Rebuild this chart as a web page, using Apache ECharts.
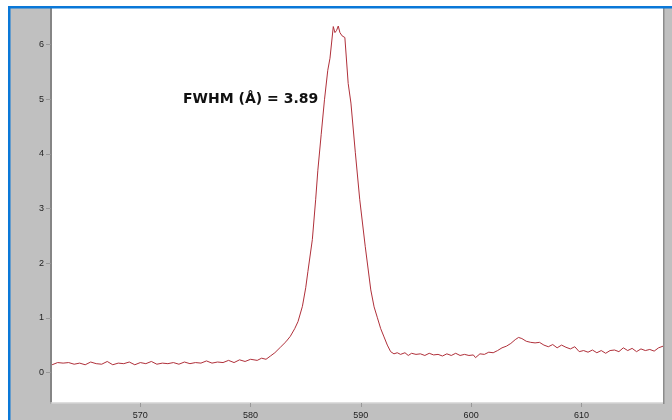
<!DOCTYPE html>
<html>
<head>
<meta charset="utf-8">
<script src="https://cdn.jsdelivr.net/npm/echarts@6/dist/echarts.min.js"></script>
<style>
html,body{margin:0;padding:0;background:#fff;}
#chart{width:672px;height:420px;}
</style>
</head>
<body>
<div id="chart"></div>
<script>
// Wavelength (nm) and intensity readings
const wavelengths = [
  562.0,562.5,563.0,563.5,564.0,564.5,565.0,565.5,566.0,566.5,567.0,567.5,568.0,568.5,569.0,569.5,
  570.0,570.5,571.0,571.5,572.0,572.5,573.0,573.5,574.0,574.5,575.0,575.5,576.0,576.5,577.0,577.5,
  578.0,578.5,579.0,579.5,580.0,
  580.6,581.0,581.4,581.8,582.2,582.7,583.2,583.6,584.0,584.3,584.7,585.0,585.2,585.6,585.9,586.1,
  586.4,586.7,587.0,587.2,587.5,587.65,587.8,587.95,588.1,588.3,588.55,588.85,589.1,589.5,589.9,
  590.4,590.9,591.2,591.5,591.8,592.1,592.4,592.7,593.0,593.3,
  593.6,594.0,594.3,594.6,595.0,595.4,595.8,596.2,596.6,597.0,597.4,597.8,598.2,598.6,599.0,599.4,
  599.8,600.2,600.4,600.8,601.2,601.6,602.0,602.4,602.8,603.2,603.6,604.0,604.3,604.6,605.0,605.4,
  605.8,606.2,606.6,607.0,607.4,607.8,608.2,608.6,609.0,609.4,609.8,610.2,610.6,611.0,611.4,611.8,
  612.2,612.6,613.0,613.4,613.8,614.2,614.6,615.0,615.4,615.8,616.2,616.6,617.0,617.4
];
const intensities = [
  0.14,0.18,0.17,0.18,0.15,0.17,0.14,0.19,0.16,0.15,0.20,0.14,0.17,0.16,0.19,0.14,
  0.18,0.16,0.20,0.15,0.17,0.16,0.18,0.15,0.19,0.16,0.18,0.17,0.21,0.17,0.19,0.18,
  0.22,0.18,0.23,0.20,0.24,
  0.22,0.26,0.24,0.30,0.36,0.46,0.56,0.66,0.80,0.93,1.21,1.55,1.85,2.43,3.16,3.70,
  4.35,4.99,5.53,5.75,6.33,6.22,6.26,6.34,6.22,6.16,6.13,5.29,4.93,4.02,3.16,
  2.30,1.51,1.20,1.00,0.80,0.65,0.50,0.38,0.34,0.36,
  0.33,0.36,0.31,0.35,0.33,0.34,0.31,0.35,0.32,0.33,0.30,0.34,0.31,0.35,0.31,0.33,
  0.31,0.32,0.27,0.34,0.33,0.37,0.36,0.40,0.45,0.48,0.53,0.60,0.64,0.62,0.57,0.55,
  0.54,0.55,0.50,0.47,0.51,0.45,0.50,0.46,0.43,0.47,0.38,0.40,0.37,0.41,0.36,0.40,
  0.35,0.40,0.41,0.38,0.45,0.40,0.44,0.38,0.43,0.40,0.42,0.39,0.45,0.48
];
const xTicks = [570, 580, 590, 600, 610];
const yTicks = [0, 1, 2, 3, 4, 5, 6];
const annotation = 'FWHM (Å) = 3.89';

const seriesData = wavelengths.map((w, i) => [w, intensities[i]]);

const chart = echarts.init(document.getElementById('chart'), null, {renderer: 'canvas'});
chart.setOption({
  animation: false,
  backgroundColor: '#ffffff',
  graphic: [
    {type: 'rect', z: -10, shape: {x: 9, y: 7, width: 663, height: 413}, style: {fill: '#c0c0c0'}},
    {type: 'rect', z: 100, shape: {x: 8, y: 6, width: 664, height: 2.5}, style: {fill: '#0a78d8'}},
    {type: 'rect', z: 100, shape: {x: 8, y: 6, width: 2.5, height: 414}, style: {fill: '#0a78d8'}},
    {type: 'rect', z: 50, shape: {x: 663, y: 8, width: 1.5, height: 396}, style: {fill: '#8c8c8c'}},
    {type: 'text', z: 60, left: 183, top: 92,
     style: {text: annotation, font: 'bold 14px "DejaVu Sans"', fill: '#111'}}
  ],
  grid: {
    left: 51, right: 9, top: 8, bottom: 17,
    show: true, backgroundColor: '#ffffff', borderWidth: 0
  },
  xAxis: {
    type: 'value', min: 561.9, max: 617.4,
    axisLine: {show: true, onZero: false, lineStyle: {color: '#d4d4d4', width: 1.5}},
    axisTick: {show: true, customValues: xTicks, length: 4, lineStyle: {color: '#999'}},
    axisLabel: {show: true, customValues: xTicks, fontSize: 9, color: '#222', margin: 8, fontFamily: 'Liberation Sans'},
    splitLine: {show: false}
  },
  yAxis: {
    type: 'value', min: -0.56, max: 6.67,
    axisLine: {show: true, onZero: false, lineStyle: {color: '#858585', width: 2}},
    axisTick: {show: true, customValues: yTicks, length: 5, lineStyle: {color: '#999'}},
    axisLabel: {show: true, customValues: yTicks, fontSize: 9, color: '#222', margin: 7, fontFamily: 'Liberation Sans'},
    splitLine: {show: false}
  },
  series: [{
    type: 'line',
    data: seriesData,
    showSymbol: false,
    lineStyle: {color: '#b0303a', width: 1},
    clip: true
  }]
});
</script>
</body>
</html>
